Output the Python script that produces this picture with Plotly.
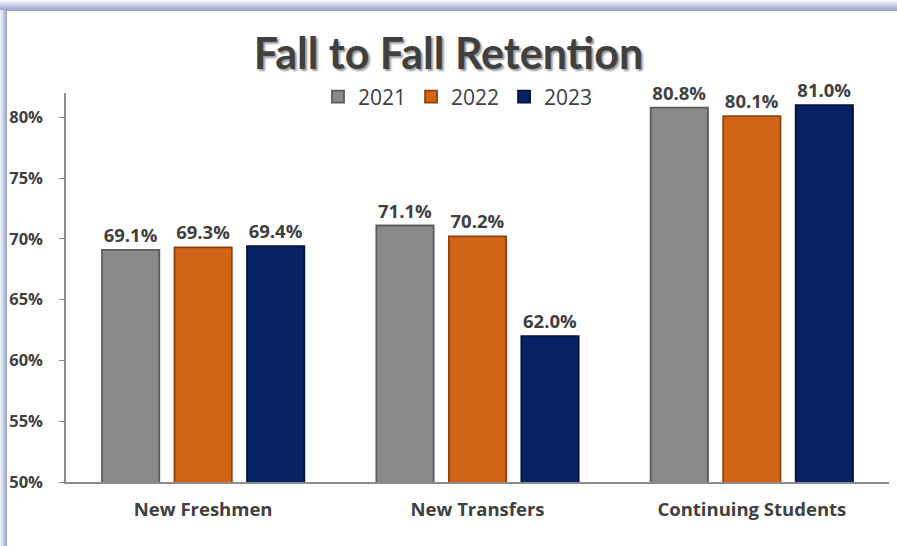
import plotly.graph_objects as go

categories = ["New Freshmen", "New Transfers", "Continuing Students"]
years = ["2021", "2022", "2023"]
values_2021 = [0.691, 0.711, 0.808]
values_2022 = [0.693, 0.702, 0.801]
values_2023 = [0.694, 0.620, 0.810]
y_ticks = [0.50, 0.55, 0.60, 0.65, 0.70, 0.75, 0.80]
y_tick_labels = ["50%", "55%", "60%", "65%", "70%", "75%", "80%"]

series = [values_2021, values_2022, values_2023]
colors = ["#898989", "#D26418", "#062265"]
edge_colors = ["#5c5c5c", "#8f420e", "#031238"]

W, H = 897, 546
L, R, T, B = 66, 8, 93, 64
pw, ph = W - L - R, H - T - B

fig = go.Figure()
for name, vals, c, ec in zip(years, series, colors, edge_colors):
    fig.add_trace(go.Bar(
        name=name, x=categories, y=vals,
        marker=dict(color=c, line=dict(color=ec, width=1.8)),
        text=[f"{v*100:.1f}%" for v in vals],
        textposition="outside",
        textfont=dict(family="Open Sans", size=18.5, color="#404040", weight="bold"),
        cliponaxis=False,
    ))

def px_x(p):
    return (p - L) / pw

def px_y(p):
    return (H - B - p) / ph

shapes = []
# top gradient band of the frame
band = ["#eef0f7", "#e4e7f2", "#dadeed", "#d0d5e8", "#c6cce3", "#bcc3de", "#b3bad9", "#aab2d4", "#a2aad0", "#9ba3cc"]
for i, col in enumerate(band):
    shapes.append(dict(type="rect", xref="paper", yref="paper",
                       x0=px_x(0), x1=px_x(W), y0=px_y(i + 2), y1=px_y(i + 1),
                       fillcolor=col, line=dict(width=0), layer="below"))
shapes.append(dict(type="rect", xref="paper", yref="paper",
                   x0=px_x(0), x1=px_x(W), y0=px_y(1), y1=px_y(0),
                   fillcolor="#f6f7fb", line=dict(width=0), layer="below"))
# left gradient band
lband = ["#eef0f7", "#e1e4f1", "#d3d8ea", "#c6cce3", "#b8bfdc", "#abb3d5", "#9ea7ce"]
for i, col in enumerate(lband):
    shapes.append(dict(type="rect", xref="paper", yref="paper",
                       x0=px_x(i), x1=px_x(i + 1), y0=px_y(H), y1=px_y(10),
                       fillcolor=col, line=dict(width=0), layer="below"))

fig.update_layout(
    width=W, height=H,
    margin=dict(l=L, r=R, t=T, b=B),
    paper_bgcolor="white", plot_bgcolor="white",
    barmode="group", bargap=0.207, bargroupgap=0.21,
    title=dict(text="Fall to Fall Retention", x=0.5, xanchor="center",
               y=1 - 54 / H, yanchor="middle",
               font=dict(family="Lato", size=43, color="#404040", weight="bold",
                         shadow="2px 2px 2px #9a9a9a")),
    legend=dict(orientation="h", x=px_x(458), xanchor="center", y=px_y(97), yanchor="middle",
                font=dict(family="Open Sans", size=21, color="#404040"),
                bgcolor="rgba(0,0,0,0)", itemwidth=30, traceorder="normal"),
    xaxis=dict(showline=True, linecolor="#8c8c8c", linewidth=1.5, ticks="",
               tickfont=dict(family="Open Sans", size=18.5, color="#404040", weight="bold"),
               ticklabelstandoff=10),
    yaxis=dict(range=[0.5, 0.82], tickvals=y_ticks, ticktext=y_tick_labels,
               showgrid=False, zeroline=False, showline=True, linecolor="#8c8c8c", linewidth=1.5,
               ticks="outside", ticklen=5, tickcolor="#8c8c8c",
               tickfont=dict(family="Open Sans", size=16.5, color="#404040", weight="bold"),
               ticklabelstandoff=13),
    shapes=shapes,
    showlegend=True,
)

fig.write_html("out.html", config={"displayModeBar": False},
               post_script="document.body.style.margin='0';")
